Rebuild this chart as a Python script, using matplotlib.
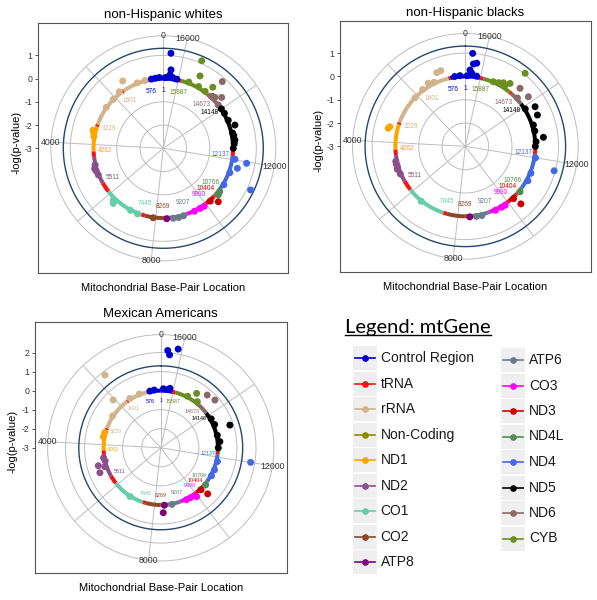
import numpy as np
import matplotlib.pyplot as plt
from matplotlib.patches import Rectangle

plt.rcParams['font.family'] = ['Liberation Sans', 'DejaVu Sans']
plt.rcParams['axes.unicode_minus'] = False

W, H = 597, 600
MT_LEN = 16569
RMIN = -3.0
SIG_LINE = 1.301

# genes and colours, in legend order
genes = ['Control Region', 'tRNA', 'rRNA', 'Non-Coding', 'ND1', 'ND2', 'CO1', 'CO2', 'ATP8',
         'ATP6', 'CO3', 'ND3', 'ND4L', 'ND4', 'ND5', 'ND6', 'CYB']
gene_colors = ['#0000CD', '#FF1010', '#D2B48C', '#8B8B00', '#FFA500', '#8B4F8B', '#66CDAA', '#8B4726', '#800080',
               '#6C7B8B', '#FF00FF', '#CD0000', '#548B54', '#4169E1', '#000000', '#8B6969', '#6B8E23']
col = dict(zip(genes, gene_colors))

# gene track (rCRS)
seg_start = [1, 577, 648, 1602, 1671, 3230, 3307, 4263, 4470, 5512, 5904, 7446, 7586, 8270, 8295,
             8366, 8527, 9208, 9991, 10059, 10405, 10470, 10767, 12138, 12337, 14149, 14674, 14747, 15888, 16024]
seg_end = [576, 647, 1601, 1670, 3229, 3306, 4262, 4469, 5511, 5903, 7445, 7585, 8269, 8294, 8365,
           8526, 9207, 9990, 10058, 10404, 10469, 10766, 12137, 12336, 14148, 14673, 14746, 15887, 16023, 16569]
seg_gene = ['Control Region', 'tRNA', 'rRNA', 'tRNA', 'rRNA', 'tRNA', 'ND1', 'tRNA', 'ND2', 'tRNA', 'CO1', 'tRNA',
            'CO2', 'Non-Coding', 'tRNA', 'ATP8', 'ATP6', 'CO3', 'tRNA', 'ND3', 'tRNA', 'ND4L', 'ND4', 'tRNA',
            'ND5', 'ND6', 'tRNA', 'CYB', 'tRNA', 'Control Region']

# gene boundary labels
lab_pos = [1, 576, 1601, 3229, 4262, 5511, 7445, 8269, 9207, 9990, 10404, 10766, 12137, 14148, 14673, 15887]
lab_gene = ['Control Region', 'Control Region', 'rRNA', 'rRNA', 'ND1', 'ND2', 'CO1', 'CO2', 'ATP6', 'CO3',
            'ND3', 'ND4L', 'ND4', 'ND5', 'ND6', 'CYB']
theta_breaks = [0, 2000, 4000, 6000, 8000, 10000, 12000, 14000, 16000]
theta_labels = ['0', '', '4000', '', '8000', '', '12000', '', '16000']

# SNP results: position (bp) and -log(p-value)
whites_pos = [16357, 16311, 16330, 16196, 16060, 16250, 16420, 16500, 150, 300, 450,
              15478, 15331, 14774, 15600, 15200, 14900,
              14660, 14318, 14544, 14480, 14185, 14600,
              13255, 12730, 12427, 13000, 13500, 13800, 12600, 12900, 14000,
              12026, 11957, 11732, 11253, 11500, 11000,
              10572, 10700, 10392, 10200, 9735, 9500, 9900, 8658, 8860, 9050, 8413, 7900,
              6338, 6250, 7000, 7300, 4773, 5168, 4900, 5000, 3526, 3480, 3700,
              1432, 1745, 2099, 2500, 1000, 700]
whites_val = [1.10, 0.39, 0.17, 0.05, 0.03, 0.08, 0.06, 0.04, 0.05, 0.03, 0.02,
              1.11, 0.49, 0.38, 0.05, 0.06, 0.04,
              0.83, 0.33, 0.09, 0.12, 0.01, 0.05,
              0.24, 0.10, 0.01, 0.05, 0.04, 0.03, 0.06, 0.08, 0.02,
              0.12, 0.64, 0.30, 1.16, 0.05, 0.04,
              0.10, 0.06, 0.30, 0.04, 0.03, 0.02, 0.05, 0.04, 0.05, 0.03, 0.03, 0.02,
              0.20, 0.08, 0.02, 0.03, 0.02, 0.02, 0.08, 0.05, 0.09, 0.12, 0.03,
              0.38, 0.08, 0.01, 0.02, 0.03, 0.02]

blacks_pos = [16362, 16210, 16311, 16408, 16339, 16150, 16500, 200, 400,
              14760, 14940, 15147, 15492, 15300, 15050,
              14576, 14185, 14400,
              13789, 13508, 12731, 13228, 12427, 13000, 12600, 13900,
              11718, 12000, 11400, 11100, 10600, 10310, 10250,
              9700, 9450, 9850, 8700, 8900, 8450, 6500,
              4700, 4800, 4900, 5000, 5200, 3535, 3471,
              976, 829, 1399, 2117, 1700, 1200]
blacks_val = [1.00, 0.60, 0.55, 0.28, 0.15, 0.05, 0.03, 0.04, 0.03,
              1.05, 0.31, 0.18, 0.02, 0.08, 0.12,
              0.42, 0.44, 0.05,
              0.44, 0.37, 0.37, 0.06, 0.00, 0.05, 0.04, 0.03,
              0.95, 0.05, 0.04, 0.06, 0.05, 0.43, 0.05,
              0.04, 0.03, 0.05, 0.04, 0.05, 0.03, 0.02,
              0.05, 0.06, 0.04, 0.08, 0.03, 0.40, 0.34,
              0.39, 0.41, 0.14, 0.00, 0.05, 0.06]

mexican_pos = [16380, 16320, 16109, 16164, 16250, 16450, 300, 500,
               15032, 14802, 15300, 14664, 14332,
               13264, 12703, 12427, 13500, 13800, 13000,
               12003, 11800, 11400, 11100, 10380, 10300, 10600,
               9955, 9700, 9500, 8800, 8386, 8450, 6800,
               4879, 5168, 4750, 5000, 4600, 3636, 3450,
               1726, 2062, 1468, 1000, 2600]
mexican_val = [2.12, 1.90, 2.26, 0.16, 0.08, 0.10, 0.05, 0.03,
               0.42, 0.09, 0.05, 0.69, 0.79,
               0.82, 0.12, 0.02, 0.08, 0.05, 0.04,
               1.78, 0.06, 0.05, 0.04, 0.45, 0.05, 0.06,
               0.18, 0.05, 0.04, 0.03, 0.41, 0.02, 0.02,
               0.41, 0.45, 0.00, 0.10, 0.05, 0.07, 0.05,
               1.81, 0.54, 0.06, 0.04, 0.03]

GRID_C = '#BDBDBD'


def fig_rect(x, y, w, h):
    # pixel box (from top-left) -> figure fraction
    return [x / W, 1 - (y + h) / H, w / W, h / H]


def to_theta(pos):
    return np.asarray(pos, dtype=float) / MT_LEN * 2 * np.pi


def gene_at(p):
    for s, e, g in zip(seg_start, seg_end, seg_gene):
        if s <= p <= e:
            return g
    return 'Non-Coding'


def draw_panel(fig, title, frame, rmax, rticks, pos, val, lab_size=4.7):
    left, top, w, h = frame
    cx, cy = left + w / 2, top + h / 2
    scale = 0.4 * w / (rmax - RMIN)
    r_outer = RMIN + (rmax - RMIN) * 0.45 / 0.4
    R = 0.45 * w

    # rectangular frame with the radial axis ticks
    fax = fig.add_axes(fig_rect(left, top, w, h))
    fax.set_xlim(0, 1)
    fax.set_ylim(RMIN - (h / 2) / scale, RMIN + (h / 2) / scale)
    fax.set_xticks([])
    fax.set_yticks(rticks)
    fax.tick_params(axis='y', length=2.5, width=0.6, color='#333333', labelsize=6.3,
                    labelcolor='#333333', pad=1.5)
    for sp in fax.spines.values():
        sp.set_color('#555555')
        sp.set_linewidth(0.8)

    # polar plot
    pax = fig.add_axes(fig_rect(cx - R, cy - R, 2 * R, 2 * R), projection='polar')
    pax.set_facecolor('none')
    pax.set_theta_zero_location('N')
    pax.set_theta_direction(1)
    pax.set_rlim(RMIN, r_outer)
    pax.set_axisbelow(True)
    pax.set_xticks(to_theta(theta_breaks))
    pax.set_xticklabels([])
    pax.set_yticks([t for t in rticks if t > RMIN])
    pax.set_yticklabels([])
    pax.tick_params(length=0)
    pax.grid(True, color=GRID_C, linewidth=0.7)
    pax.spines['polar'].set_color(GRID_C)
    pax.spines['polar'].set_linewidth(0.7)

    for b, lb in zip(theta_breaks, theta_labels):
        if lb:
            pax.text(to_theta(b), r_outer, lb, ha='center', va='center', fontsize=6.3,
                     color='#333333', clip_on=False)

    # significance threshold
    ring = np.linspace(0, 2 * np.pi, 400)
    pax.plot(ring, np.full_like(ring, SIG_LINE), color='#24476E', lw=1.0, zorder=2)

    # gene track
    for s, e, g in zip(seg_start, seg_end, seg_gene):
        th = np.linspace(to_theta(s), to_theta(e), 40)
        pax.plot(th, np.zeros_like(th), color=col[g], lw=2.9, solid_capstyle='butt', zorder=3)

    # SNP points
    pcol = [col[gene_at(p)] for p in pos]
    pax.scatter(to_theta(pos), val, s=25, c=pcol, edgecolors='none', zorder=4)

    # gene boundary positions
    for p, g in zip(lab_pos, lab_gene):
        pax.text(to_theta(p), -0.5, str(p), ha='center', va='center', fontsize=lab_size,
                 color=col[g], zorder=5)

    fig.text(cx / W, 1 - (top - 8) / H, title, ha='center', va='center', fontsize=9.5)
    fig.text(cx / W, 1 - (top + h + 15) / H, 'Mitochondrial Base-Pair Location',
             ha='center', va='center', fontsize=8)
    fig.text((left - 22) / W, 1 - (cy - 6) / H, '-log(p-value)', rotation=90,
             ha='center', va='center', fontsize=8)


fig = plt.figure(figsize=(W / 100, H / 100), dpi=100)

draw_panel(fig, 'non-Hispanic whites', (38.3, 23.3, 250, 250), 1.301, [1, 0, -1, -2, -3],
           whites_pos, whites_val)
draw_panel(fig, 'non-Hispanic blacks', (340, 21, 250.7, 250.7), 1.301, [1, 0, -1, -2, -3],
           blacks_pos, blacks_val)
draw_panel(fig, 'Mexican Americans', (35, 322.3, 251.5, 251), 2.28, [2, 1, 0, -1, -2, -3],
           mexican_pos, mexican_val, lab_size=3.9)

# legend panel (pixel coordinates)
lax = fig.add_axes(fig_rect(330, 300, 267, 300))
lax.set_xlim(330, 597)
lax.set_ylim(600, 300)
lax.axis('off')

ttl = lax.text(345, 332.7, 'Legend: mtGene', fontsize=14.5, family=['Lato', 'DejaVu Sans'],
               ha='left', va='baseline')
fig.canvas.draw()
bb = ttl.get_window_extent().transformed(lax.transData.inverted())
lax.plot([bb.x0, bb.x1], [335.3, 335.3], color='black', lw=1.0)

columns = [(352.7, 358.3, genes[:9]), (501.0, 360.0, genes[9:])]
for kx, y0, names in columns:
    for i, g in enumerate(names):
        yc = y0 + i * 25.5
        lax.add_patch(Rectangle((kx, yc - 12), 24, 24, facecolor='#EFEFEF', edgecolor='none'))
        lax.plot([kx + 2, kx + 22], [yc, yc], color=col[g], lw=1.2)
        lax.plot(kx + 12, yc, 'o', ms=3.8, color=col[g])
        lax.text(kx + 28, yc, g, fontsize=10, ha='left', va='center', color='#1A1A1A')

fig.savefig('out.png', dpi=100)
